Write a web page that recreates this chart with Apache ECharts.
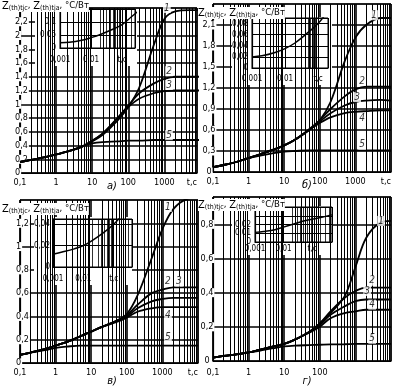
<!DOCTYPE html>
<html><head><meta charset="utf-8">
<script src="https://cdn.jsdelivr.net/npm/echarts@6/dist/echarts.min.js"></script>
<style>html,body{margin:0;padding:0;background:#fff}#c{width:394px;height:387px}</style>
</head><body><div id="c"></div><script>
// time points (s) for main plots
const T = [0.1,0.2,0.5,1,2,5,10,20,50,100,200,500,1000,2000,5000,10000];
// panel а)
const A1 = [0.16,0.19,0.23,0.27,0.31,0.38,0.46,0.56,0.76,0.96,1.24,1.85,2.24,2.35,2.37,2.37];
const A2 = [0.16,0.19,0.23,0.27,0.31,0.38,0.47,0.58,0.80,0.98,1.16,1.30,1.37,1.40,1.40,1.40];
const A3 = [0.16,0.19,0.23,0.27,0.31,0.38,0.47,0.58,0.79,0.96,1.08,1.16,1.19,1.20,1.20,1.20];
const A5 = [0.16,0.19,0.23,0.27,0.31,0.38,0.43,0.45,0.46,0.47,0.47,0.48,0.48,0.48,0.48,0.48];
// panel б)
const B1 = [0.07,0.10,0.15,0.20,0.25,0.32,0.38,0.46,0.60,0.74,1.00,1.58,1.92,2.10,2.20,2.20];
const B2 = [0.07,0.10,0.15,0.20,0.25,0.32,0.38,0.46,0.61,0.74,0.90,1.08,1.18,1.22,1.22,1.22];
const B3 = [0.07,0.10,0.15,0.20,0.25,0.32,0.38,0.46,0.60,0.72,0.84,0.95,1.00,1.02,1.03,1.02];
const B4 = [0.07,0.10,0.15,0.20,0.25,0.32,0.38,0.46,0.60,0.70,0.78,0.84,0.86,0.87,0.88,0.88];
const B5 = [0.07,0.10,0.15,0.20,0.23,0.27,0.29,0.30,0.31,0.31,0.31,0.31,0.31,0.31,0.31,0.31];
// panel в)
const V1 = [0.07,0.09,0.12,0.15,0.18,0.23,0.27,0.31,0.36,0.42,0.58,0.90,1.15,1.32,1.41,1.42];
const V2 = [0.07,0.09,0.12,0.15,0.18,0.23,0.27,0.31,0.36,0.41,0.50,0.60,0.63,0.65,0.65,0.65];
const V3 = [0.07,0.09,0.12,0.15,0.18,0.23,0.27,0.31,0.36,0.40,0.47,0.53,0.55,0.56,0.56,0.56];
const V4 = [0.07,0.09,0.12,0.15,0.18,0.23,0.27,0.31,0.35,0.39,0.44,0.47,0.48,0.48,0.48,0.48];
const V5 = [0.07,0.09,0.11,0.13,0.14,0.15,0.15,0.15,0.15,0.15,0.15,0.15,0.15,0.15,0.15,0.15];
// panel г)
const G1 = [0.02,0.03,0.04,0.05,0.065,0.085,0.10,0.125,0.17,0.22,0.28,0.38,0.55,0.72,0.81,0.82];
const G2 = [0.02,0.03,0.04,0.05,0.065,0.085,0.10,0.125,0.17,0.22,0.29,0.37,0.41,0.43,0.43,0.43];
const G3 = [0.02,0.03,0.04,0.05,0.065,0.085,0.10,0.125,0.17,0.21,0.27,0.32,0.35,0.36,0.36,0.36];
const G4 = [0.02,0.03,0.04,0.05,0.065,0.085,0.10,0.125,0.165,0.20,0.25,0.28,0.29,0.30,0.30,0.30];
const G5 = [0.02,0.03,0.04,0.05,0.06,0.075,0.085,0.09,0.093,0.095,0.097,0.098,0.10,0.10,0.10,0.10];
// insets
const TI = [0.001,0.002,0.005,0.01,0.02,0.05,0.1,0.2,0.5];
const IA = [0.02,0.022,0.03,0.04,0.052,0.072,0.09,0.12,0.16];
const IB = [0.02,0.022,0.028,0.035,0.045,0.064,0.08,0.103,0.14];
const IV = [0.012,0.014,0.017,0.02,0.025,0.033,0.04,0.05,0.07];
const IG = [0.011,0.012,0.014,0.017,0.02,0.024,0.026,0.028,0.031];
// curve number labels [t, value, name]
const LA = [[1170,2.40,'1'],[1340,1.48,'2'],[1340,1.28,'3'],[1340,0.55,'5']];
const LB = [[3350,2.24,'1'],[1550,1.30,'2'],[1120,1.07,'3'],[1550,0.77,'4'],[1550,0.39,'5']];
const LV = [[1435,1.34,'1'],[1435,0.70,'2'],[2920,0.70,'3'],[1435,0.41,'4'],[1435,0.22,'5']];
const LG = [[5250,0.82,'1'],[2950,0.47,'2'],[2140,0.41,'3'],[2950,0.33,'4'],[2950,0.13,'5']];

const FONT = '"DejaVu Sans Condensed","DejaVu Sans",sans-serif';
function fmt(v){ return String(+(+v).toFixed(4)).replace('.', ','); }
function near(a,b){ return Math.abs(a-b) <= Math.abs(b)*1e-6 + 1e-12; }

const grids = [
  {left:20, top:8, width:177, height:165},
  {left:213, top:4, width:179, height:168},
  {left:20, top:200, width:178, height:163},
  {left:213, top:197, width:179, height:164},
  {left:60, top:9, width:75, height:39},
  {left:252, top:18, width:76, height:50},
  {left:53, top:219, width:79, height:48},
  {left:255, top:207, width:77, height:35}
].map((g,i)=>Object.assign({show:true, borderColor:'#000', borderWidth:1, z: i<4?2:6}, g));

const xMax = [8000,10000,10000,10000,0.26,0.2,0.4,0.5];
const xMargin = [5,5,5,7,8,7,8,3];
const xAxes = xMax.map((mx,i)=>{
  const inset = i>=4;
  return {
    type:'log', logBase:10, gridIndex:i, min: inset?0.001:0.1, max: mx,
    z: inset?6:2,
    axisLine:{show:true, lineStyle:{color:'#000', width:1.2}},
    axisTick:{show:false},
    axisLabel:{show:true, color:'#000', fontFamily:FONT, fontSize: inset?8:9, margin:xMargin[i],
      alignMaxLabel:'right',
      formatter:(v)=>{
        if (near(v,mx)) return (!inset && i!==3) ? 't,c' : '';
        if (inset) { if (near(v,0.1)) return 't,c'; return fmt(v); }
        if (i===3 && v>=999) return '';
        return fmt(v);
      }},
    splitLine:{show:true, lineStyle:{color:'#000', width: inset?1:1.6}}
  };
});

const yMax = [2.4,2.4,1.4,0.96,0.15,0.09,0.045,0.04];
const yInt = [0.2,0.3,0.2,0.2,0.05,0.02,0.02,0.01];
const yShowMax = [2.2,2.1,1.2,0.8,0.1,0.08,0.04,0.02];
const yAlign = ['left','center','left','center','right','right','right','right'];
const yMargin = [6,4,5,6,3,3,2,3];
const yAxes = yMax.map((mx,i)=>{
  const inset = i>=4;
  return {
    type:'value', gridIndex:i, min:0, max:mx, interval:yInt[i], z: inset?6:2,
    axisLine:{show:true, lineStyle:{color:'#000', width:1.2}},
    axisTick:{show:false},
    axisLabel:{show:true, color:'#000', fontFamily:FONT, fontSize: inset?8:9, margin:yMargin[i],
      align:yAlign[i], backgroundColor: inset?'transparent':'#fff', padding:[0,1],
      formatter:(v)=> (v > yShowMax[i] + 1e-9) ? '' : fmt(v)},
    splitLine:{show:true, lineStyle:{color:'#000', width: inset?1:1.5}}
  };
});

function minorVals(kFrom, kTo, mn, mx){
  const out=[];
  for (let k=kFrom;k<=kTo;k++) for (let m=2;m<=9;m++){
    const v = +(m*Math.pow(10,k)).toPrecision(6);
    if (v>mn && v<mx) out.push(v);
  }
  return out;
}

const series = [];
function gridSeries(i, vals, width, z){
  series.push({
    type:'line', xAxisIndex:i, yAxisIndex:i, data:[], silent:true, z:z, symbol:'none',
    markLine:{silent:true, symbol:['none','none'], animation:false, label:{show:false},
      lineStyle:{color:'#000', width:width, type:'solid', opacity:1},
      data: vals.map(v=>({xAxis:v}))}
  });
}
for (let i=0;i<4;i++) gridSeries(i, minorVals(-1,3,0.1,xMax[i]), 1, 1);
for (let i=4;i<8;i++) gridSeries(i, minorVals(-3,-1,0.001,xMax[i]), 0.8, 6);

function curve(i, xs, ys, z, w){
  series.push({type:'line', xAxisIndex:i, yAxisIndex:i, smooth:0.35, symbol:'none', z:z,
    lineStyle:{color:'#000', width:w}, data: xs.map((t,k)=>[t, ys[k]])});
}
[A1,A2,A3,A5].forEach(d=>curve(0,T,d,3,1.8));
[B1,B2,B3,B4,B5].forEach(d=>curve(1,T,d,3,1.8));
[V1,V2,V3,V4,V5].forEach(d=>curve(2,T,d,3,1.8));
[G1,G2,G3,G4,G5].forEach(d=>curve(3,T,d,3,1.8));
curve(4,TI,IA,7,1.5); curve(5,TI,IB,7,1.5); curve(6,TI,IV,7,1.5); curve(7,TI,IG,7,1.5);

function labels(i, arr){
  series.push({type:'scatter', xAxisIndex:i, yAxisIndex:i, symbol:'circle', symbolSize:1, z:9, clip:false,
    itemStyle:{color:'rgba(0,0,0,0)'}, silent:true, data:arr,
    label:{show:true, position:'inside', formatter:(p)=>p.value[2], color:'#000', fontFamily:FONT,
      fontSize:10, fontStyle:'italic', backgroundColor:'#fff', padding:[0,1]}});
}
labels(0,LA); labels(1,LB); labels(2,LV); labels(3,LG);

const rich = {
  z:{fontSize:11, fontFamily:FONT, color:'#000'},
  s:{fontSize:7, fontFamily:FONT, color:'#000', verticalAlign:'bottom', padding:[5,0,0,0]},
  n:{fontSize:9.5, fontFamily:FONT, color:'#000'}
};
const TITLE = '{z|Z}{s|(th)tjc}{n|, }{z|Z}{s|(th)tja}{n|, °C/Вт}';
function whiteRect(x,y,w,h){ return {type:'rect', z:5, shape:{x,y,width:w,height:h}, style:{fill:'#fff'}, silent:true}; }
function title(x,y){ return {type:'text', z:8, x, y, style:{text:TITLE, rich, verticalAlign:'middle', fill:'#000', backgroundColor:'#fff'}, silent:true}; }
function sub(x,y,t){ return {type:'text', z:8, x, y, style:{text:t, font:'italic 11px '+FONT, fill:'#000', align:'center', verticalAlign:'middle'}, silent:true}; }

const option = {
  animation:false, backgroundColor:'#fff',
  grid:grids, xAxis:xAxes, yAxis:yAxes, series,
  graphic:{elements:[
    whiteRect(35,9,102,57), whiteRect(232,17,100,68), whiteRect(34,217,98,68), whiteRect(232,206,101,49),
    title(2,6), title(198,13), title(2,209), title(198,205),
    sub(112,186,'а)'), sub(307,185,'б)'), sub(112,381,'в)'), sub(307,381,'г)')
  ]}
};
const chart = echarts.init(document.getElementById('c'), null, {renderer:'canvas'});
chart.setOption(option);
</script></body></html>
